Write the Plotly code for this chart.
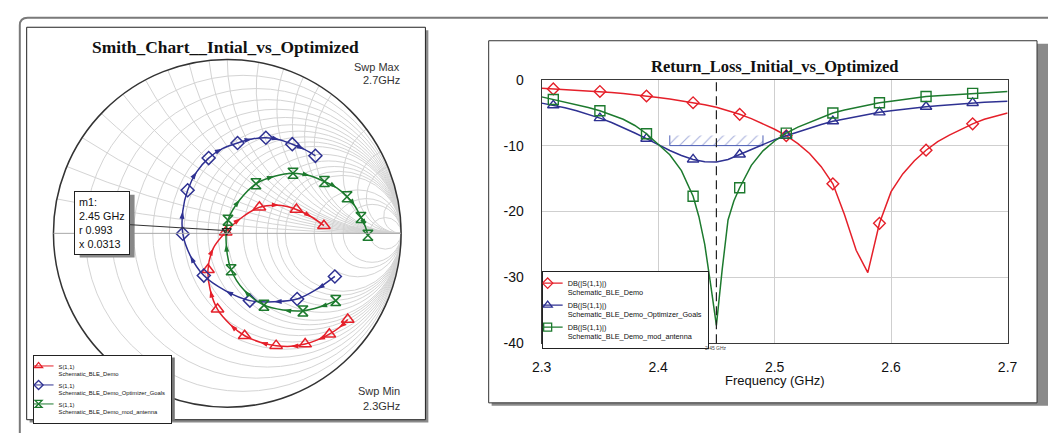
import numpy as np
import plotly.graph_objects as go

W, H = 1048, 433

# ---------------- Smith chart data (reflection coefficient) ----------------
smith_freq = [2.30, 2.32, 2.34, 2.36, 2.38, 2.40, 2.42, 2.44, 2.46, 2.48, 2.50,
              2.52, 2.54, 2.56, 2.58, 2.60, 2.62, 2.64, 2.66, 2.68, 2.70]
smith_marker_freq = [2.30, 2.34, 2.38, 2.42, 2.46, 2.50, 2.54, 2.58, 2.62, 2.66, 2.70]

gamma_initial_re = [0.693, 0.643, 0.587, 0.519, 0.448, 0.365, 0.281, 0.189, 0.100, 0.017, -0.056,
                    -0.098, -0.111, -0.080, -0.009, 0.078, 0.185, 0.300, 0.398, 0.485, 0.556]
gamma_initial_im = [-0.496, -0.543, -0.580, -0.613, -0.637, -0.650, -0.646, -0.626, -0.589, -0.524, -0.437,
                    -0.326, -0.209, -0.085, 0.007, 0.087, 0.150, 0.161, 0.137, 0.094, 0.044]

gamma_optim_re = [0.619, 0.517, 0.402, 0.269, 0.130, -0.009, -0.135, -0.213, -0.256, -0.256, -0.228,
                  -0.176, -0.107, -0.028, 0.059, 0.143, 0.222, 0.300, 0.374, 0.444, 0.507]
gamma_optim_im = [-0.248, -0.320, -0.378, -0.394, -0.387, -0.331, -0.243, -0.128, -0.002, 0.128, 0.248,
                  0.354, 0.433, 0.487, 0.520, 0.543, 0.550, 0.539, 0.513, 0.483, 0.446]

gamma_mod_re = [0.624, 0.531, 0.435, 0.324, 0.211, 0.096, 0.022, -0.006, 0.004, 0.072, 0.165,
                0.272, 0.378, 0.476, 0.559, 0.630, 0.689, 0.735, 0.769, 0.794, 0.809]
gamma_mod_im = [-0.387, -0.424, -0.446, -0.441, -0.413, -0.326, -0.209, -0.061, 0.076, 0.193, 0.285,
                0.328, 0.346, 0.331, 0.298, 0.261, 0.211, 0.156, 0.091, 0.039, -0.011]

m1_freq = 2.45
m1_r = 0.993
m1_x = 0.0313
swp_min = 2.3
swp_max = 2.7

smith_names = ["S(1,1)<br>Schematic_BLE_Demo",
               "S(1,1)<br>Schematic_BLE_Demo_Optimizer_Goals",
               "S(1,1)<br>Schematic_BLE_Demo_mod_antenna"]

# ---------------- Return loss data (dB) ----------------
rl_freq = [2.30, 2.31, 2.32, 2.33, 2.34, 2.35, 2.36, 2.37, 2.38, 2.39, 2.40, 2.41, 2.42, 2.43,
           2.44, 2.45, 2.46, 2.47, 2.48, 2.49, 2.50, 2.51, 2.52, 2.53, 2.54, 2.55, 2.56, 2.57,
           2.58, 2.59, 2.60, 2.61, 2.62, 2.63, 2.64, 2.65, 2.66, 2.67, 2.68, 2.69, 2.70]
rl_db_initial = [-1.30, -1.39, -1.47, -1.56, -1.66, -1.78, -1.92, -2.08, -2.26, -2.47, -2.70, -2.94,
                 -3.20, -3.49, -3.80, -4.18, -4.68, -5.25, -5.90, -6.65, -7.52, -8.50, -9.70, -11.20,
                 -13.20, -15.80, -20.50, -25.90, -29.30, -21.80, -17.00, -14.30, -12.30, -10.70,
                 -9.40, -8.40, -7.50, -6.70, -6.00, -5.50, -5.05]
rl_db_optim = [-3.55, -3.88, -4.25, -4.70, -5.22, -5.83, -6.50, -7.25, -8.08, -8.95, -9.85, -10.75,
               -11.50, -12.10, -12.45, -12.50, -12.10, -11.35, -10.55, -9.80, -9.10, -8.50, -7.90,
               -7.30, -6.80, -6.30, -5.95, -5.60, -5.25, -4.95, -4.70, -4.48, -4.28, -4.10, -3.95,
               -3.80, -3.65, -3.52, -3.42, -3.35, -3.28]
rl_freq_mod = [2.30, 2.31, 2.32, 2.33, 2.34, 2.35, 2.36, 2.37, 2.38, 2.39, 2.40, 2.41, 2.42, 2.43,
               2.435, 2.44, 2.445, 2.45, 2.455, 2.46, 2.465, 2.47, 2.48, 2.49, 2.50, 2.51, 2.52,
               2.53, 2.54, 2.55, 2.56, 2.57, 2.58, 2.59, 2.60, 2.61, 2.62, 2.63, 2.64, 2.65, 2.66,
               2.67, 2.68, 2.69, 2.70]
rl_db_mod = [-2.60, -3.00, -3.35, -3.75, -4.20, -4.70, -5.30, -6.00, -6.95, -8.20, -9.80, -11.40,
             -13.80, -17.70, -20.80, -25.00, -31.00, -37.30, -28.80, -21.30, -18.40, -16.40, -13.00,
             -10.80, -9.30, -8.10, -7.20, -6.45, -5.70, -5.05, -4.60, -4.20, -3.85, -3.50, -3.25,
             -3.00, -2.78, -2.55, -2.43, -2.30, -2.18, -2.07, -1.97, -1.88, -1.80]
rl_marker_freq = [2.31, 2.35, 2.39, 2.43, 2.47, 2.51, 2.55, 2.59, 2.63, 2.67]
goal_freq = [2.41, 2.49]
goal_db = -10

rl_names = ["DB(|S(1,1)|)<br>Schematic_BLE_Demo",
            "DB(|S(1,1)|)<br>Schematic_BLE_Demo_Optimizer_Goals",
            "DB(|S(1,1)|)<br>Schematic_BLE_Demo_mod_antenna"]

x_tickvals = [2.3, 2.4, 2.5, 2.6, 2.7]
x_ticktext = ["2.3", "2.4", "2.5", "2.6", "2.7"]
y_tickvals = [0, -10, -20, -30, -40]
y_ticktext = ["0", "-10", "-20", "-30", "-40"]

# ---------------- styles / geometry ----------------
RED, BLUE, GREEN = "#e5202a", "#2e3192", "#1d7a2e"
SANS, SERIF = "Liberation Sans", "Liberation Serif"
SC_X, SC_Y, SC_R = 221.5, 234, 180.5      # smith circle centre / radius (px)
PX0, PX1, PY0, PY1 = 542, 1017, 74.5, 348  # return-loss plot area (px)
RL_CX = (PX0 + PX1) / 2


def fx(x):
    return x / W


def fy(y):
    return 1 - y / H


def to_z(re, im):
    g = np.array(re) + 1j * np.array(im)
    z = (1 + g) / (1 - g)
    return z.real, z.imag


fig = go.Figure()

# ---------- Smith traces ----------
smith_sets = [(gamma_initial_re, gamma_initial_im, RED, "triangle-up-open", 11),
              (gamma_optim_re, gamma_optim_im, BLUE, "diamond-open", 10),
              (gamma_mod_re, gamma_mod_im, GREEN, "hourglass-open", 10)]
sf = np.array(smith_freq)
is_mk = np.isclose(sf[:, None], np.array(smith_marker_freq)[None, :]).any(axis=1)
mk_idx = np.where(is_mk)[0]
ar_idx = np.where(~is_mk)[0]
for re, im, col, sym, msz in smith_sets:
    zr, zi = to_z(re, im)
    fig.add_trace(go.Scattersmith(real=zr, imag=zi, mode="lines",
                                  line=dict(color=col, width=1.5, shape="spline"),
                                  showlegend=False, hoverinfo="skip"))
    g_re, g_im = np.array(re), np.array(im)
    ang = []
    for i in ar_idx:
        d_re = g_re[min(i + 1, len(g_re) - 1)] - g_re[i - 1]
        d_im = g_im[min(i + 1, len(g_im) - 1)] - g_im[i - 1]
        ang.append(float(np.degrees(np.arctan2(d_re, d_im))))
    fig.add_trace(go.Scattersmith(real=zr[ar_idx], imag=zi[ar_idx], mode="markers",
                                  marker=dict(symbol="arrow", size=8, color=col, angle=ang,
                                              line=dict(width=0)),
                                  showlegend=False, hoverinfo="skip"))
    fig.add_trace(go.Scattersmith(real=zr[mk_idx], imag=zi[mk_idx], mode="markers",
                                  marker=dict(symbol=sym, size=msz, color=col,
                                              line=dict(width=1.5, color=col)),
                                  showlegend=False))

fig.add_trace(go.Scattersmith(real=[m1_r], imag=[m1_x], mode="markers",
                              marker=dict(symbol="triangle-down-open", size=8, color="#222",
                                          line=dict(width=1.3, color="#222")),
                              showlegend=False))

for (re, im, col, sym, msz), nm in zip(smith_sets, smith_names):
    fig.add_trace(go.Scatter(x=[None], y=[None], mode="lines+markers", name=nm,
                             line=dict(color=col, width=1),
                             marker=dict(symbol=sym, size=7, color=col, line=dict(width=1.3, color=col)),
                             legend="legend2"))

# ---------- Return loss traces ----------
rl_sets = [(rl_freq, rl_db_initial, RED, "diamond-open", 9),
           (rl_freq, rl_db_optim, BLUE, "triangle-up-open", 10),
           (rl_freq_mod, rl_db_mod, GREEN, "square-open", 10)]

fig.add_trace(go.Scatter(x=[goal_freq[0], goal_freq[1], goal_freq[1], goal_freq[0]],
                         y=[goal_db, goal_db, goal_db + 1.55, goal_db + 1.55],
                         fill="toself", mode="lines", line=dict(width=0, color="rgba(0,0,0,0)"),
                         fillcolor="rgba(0,0,0,0)",
                         fillpattern=dict(shape="/", fgcolor="#4f60b8", bgcolor="rgba(0,0,0,0)",
                                          size=8, solidity=0.14),
                         showlegend=False, hoverinfo="skip"))
fig.add_trace(go.Scatter(x=[goal_freq[0], goal_freq[0], goal_freq[1], goal_freq[1]],
                         y=[goal_db + 1.55, goal_db, goal_db, goal_db + 1.55],
                         mode="lines", line=dict(color="#4f60b8", width=1),
                         showlegend=False, hoverinfo="skip"))

for f, db, col, sym, msz in rl_sets:
    fa, da = np.array(f), np.array(db)
    fig.add_trace(go.Scatter(x=fa, y=da, mode="lines", line=dict(color=col, width=1.5),
                             showlegend=False))
    sel = np.isclose(fa[:, None], np.array(rl_marker_freq)[None, :]).any(axis=1)
    fig.add_trace(go.Scatter(x=fa[sel], y=da[sel], mode="markers",
                             marker=dict(symbol=sym, size=msz, color=col, line=dict(width=1.4, color=col)),
                             showlegend=False))

for (f, db, col, sym, msz), nm in zip(rl_sets, rl_names):
    fig.add_trace(go.Scatter(x=[None], y=[None], mode="lines+markers", name=nm,
                             line=dict(color=col, width=1.2),
                             marker=dict(symbol=sym, size=8, color=col, line=dict(width=1.3, color=col)),
                             legend="legend"))

# ---------- shapes ----------
shapes = []
shapes.append(dict(type="path", xref="paper", yref="paper",
                   path=f"M {fx(10)},{fy(450)} L {fx(10)},{fy(18)} Q {fx(10)},{fy(10)} {fx(18)},{fy(10)} L {fx(1070)},{fy(10)}",
                   line=dict(color="#7a7a7a", width=2), layer="below"))
shapes.append(dict(type="rect", xref="paper", yref="paper", x0=fx(20), x1=fx(426.5), y0=fy(23), y1=fy(430.5),
                   fillcolor="#8a8a8a", line=dict(width=0), layer="below"))
shapes.append(dict(type="rect", xref="paper", yref="paper", x0=fx(17), x1=fx(423.5), y0=fy(20), y1=fy(427.5),
                   fillcolor="white", line=dict(color="#222", width=1), layer="below"))
shapes.append(dict(type="rect", xref="paper", yref="paper", x0=fx(491), x1=fx(1070), y0=fy(37), y1=fy(413),
                   fillcolor="#8a8a8a", line=dict(width=0), layer="below"))
shapes.append(dict(type="rect", xref="paper", yref="paper", x0=fx(488), x1=fx(1047), y0=fy(34), y1=fy(410),
                   fillcolor="white", line=dict(color="#333", width=1), layer="below"))
# legend / m1 box shadows
shapes.append(dict(type="rect", xref="paper", yref="paper", x0=fx(26), x1=fx(168), y0=fy(363), y1=fy(428),
                   fillcolor="#777", line=dict(width=0), layer="above"))
shapes.append(dict(type="rect", xref="paper", yref="paper", x0=fx(545), x1=fx(708), y0=fy(276), y1=fy(349),
                   fillcolor="#777", line=dict(width=0), layer="above"))
BOX_CX, BOX_CY, BOX_W, BOX_H = 96, 223.5, 56, 65
shapes.append(dict(type="rect", xref="paper", yref="paper",
                   x0=fx(BOX_CX - BOX_W / 2 + 3), x1=fx(BOX_CX + BOX_W / 2 + 3),
                   y0=fy(BOX_CY - BOX_H / 2 + 3), y1=fy(BOX_CY + BOX_H / 2 + 3),
                   fillcolor="#888", line=dict(width=0), layer="above"))
shapes.append(dict(type="line", xref="x", yref="y", x0=m1_freq, x1=m1_freq, y0=-40, y1=0,
                   line=dict(color="#222", width=1.2, dash="9px,5px"), layer="above"))

# ---------- annotations ----------
gm = (complex(m1_r, m1_x) - 1) / (complex(m1_r, m1_x) + 1)
m1_px = SC_X + SC_R * gm.real
m1_py = SC_Y - SC_R * gm.imag


def txt(text, x, y, size, family=SANS, color="#111", xanchor="center"):
    return dict(text=text, x=fx(x), y=fy(y), xref="paper", yref="paper", showarrow=False,
                xanchor=xanchor, yanchor="middle", font=dict(family=family, size=size, color=color))


annotations = [
    txt("<b>Smith_Chart__Intial_vs_Optimized</b>", 220, 40, 17.4, SERIF),
    txt("<b>Return_Loss_Initial_vs_Optimized</b>", RL_CX, 61, 16.5, SERIF),
    txt("Swp Max", 400, 61, 11, color="#333", xanchor="right"),
    txt(f"{swp_max}GHz", 400, 75, 11, color="#333", xanchor="right"),
    txt("Swp Min", 400, 398, 11, color="#333", xanchor="right"),
    txt(f"{swp_min}GHz", 400, 413, 11, color="#333", xanchor="right"),
    txt("Frequency (GHz)", RL_CX, 387, 13),
    dict(text=f"m1:<br>{m1_freq} GHz<br>r {m1_r}<br>x {m1_x}", x=fx(m1_px), y=fy(m1_py),
         xref="paper", yref="paper", showarrow=True, arrowhead=0, arrowwidth=1, arrowcolor="#333",
         ax=BOX_CX - m1_px, ay=BOX_CY - m1_py, standoff=0, align="left",
         bgcolor="white", bordercolor="#222", borderwidth=1, borderpad=4,
         font=dict(family=SANS, size=10.8, color="#111")),
    dict(text=f"{m1_freq} GHz", x=m1_freq, xref="x", y=fy(353), yref="paper", showarrow=False,
         xanchor="center", yanchor="middle", font=dict(family=SANS, size=5, color="#444")),
]

r_grid = [0.1, 0.2, 0.3, 0.4, 0.5, 0.6, 0.7, 0.8, 0.9, 1.0, 1.2, 1.4, 1.6, 1.8, 2.0, 3.0, 4.0, 5.0, 10.0]
x_grid = [0.1, 0.2, 0.3, 0.4, 0.5, 0.6, 0.7, 0.8, 0.9, 1.0, 1.2, 1.4, 1.6, 1.8, 2.0, 3.0, 4.0, 5.0, 10.0]

fig.update_layout(
    width=W, height=H, autosize=False,
    margin=dict(l=0, r=0, t=0, b=0),
    paper_bgcolor="white", plot_bgcolor="rgba(0,0,0,0)",
    shapes=shapes, annotations=annotations,
    smith=dict(
        domain=dict(x=[fx(SC_X - SC_R), fx(SC_X + SC_R)], y=[fy(SC_Y + SC_R), fy(SC_Y - SC_R)]),
        bgcolor="rgba(0,0,0,0)",
        realaxis=dict(tickvals=r_grid, gridcolor="#d4d4d4", gridwidth=1, linecolor="#a8a8a8",
                      showticklabels=False, ticks=""),
        imaginaryaxis=dict(tickvals=x_grid, gridcolor="#d4d4d4", gridwidth=1, linecolor="#333",
                           linewidth=1.5, showticklabels=False, ticks=""),
    ),
    xaxis=dict(domain=[fx(PX0), fx(PX1)], range=[2.3, 2.7], tickvals=x_tickvals, ticktext=x_ticktext,
               showgrid=True, gridcolor="#cfcfcf", gridwidth=1, zeroline=False,
               showline=True, mirror=True, linecolor="#3a3a3a", linewidth=1, ticks="",
               ticklabelstandoff=11, tickfont=dict(family=SANS, size=14, color="#111")),
    yaxis=dict(domain=[fy(PY1), fy(PY0)], range=[-40, 0], tickvals=y_tickvals, ticktext=y_ticktext,
               showgrid=True, gridcolor="#cfcfcf", gridwidth=1, zeroline=False,
               showline=True, mirror=True, linecolor="#3a3a3a", linewidth=1, ticks="",
               ticklabelstandoff=14, tickfont=dict(family=SANS, size=14, color="#111")),
    legend=dict(x=fx(542), y=fy(273), xanchor="left", yanchor="top", bgcolor="white",
                bordercolor="#222", borderwidth=1, valign="top", itemwidth=30, tracegroupgap=0,
                indentation=-15, font=dict(family=SANS, size=7.3, color="#111")),
    legend2=dict(x=fx(23), y=fy(360), xanchor="left", yanchor="top", bgcolor="white",
                 bordercolor="#222", borderwidth=1, valign="top", itemwidth=30, tracegroupgap=0,
                 indentation=-15, font=dict(family=SANS, size=5.8, color="#111")),
)

fig.write_html("out.html",
               config={"displayModeBar": False, "staticPlot": True},
               post_script="document.body.style.margin='0px';document.body.style.overflow='hidden';")
